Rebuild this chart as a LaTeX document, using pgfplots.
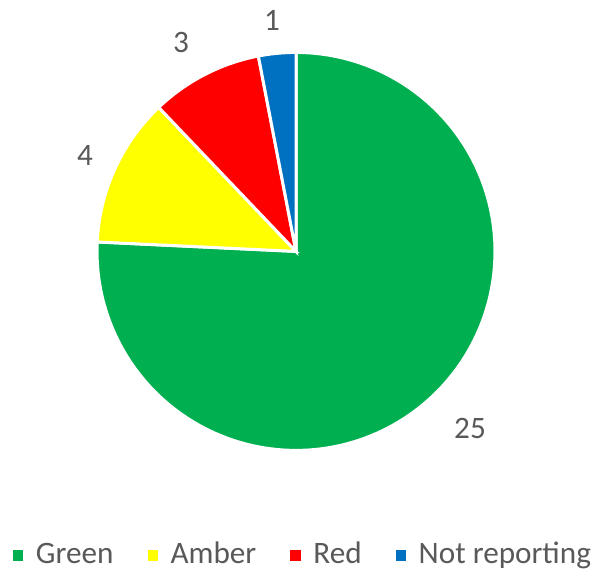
\documentclass[border=0pt]{standalone}
\usepackage{fontspec}
\setmainfont{Carlito}
\usepackage{pgfplots}
\usepackage{pgfplotstable}
\pgfplotsset{compat=1.18}
\definecolor{cGreen}{HTML}{00B050}
\definecolor{cAmber}{HTML}{FFFF00}
\definecolor{cRed}{HTML}{FF0000}
\definecolor{cBlue}{HTML}{0070C0}
\definecolor{txt}{HTML}{595959}
\pgfplotstableread{
label value
Green 25
Amber 4
Red 3
NotReporting 1
}\piedata
\pgfplotstablegetelem{0}{value}\of\piedata \let\vA\pgfplotsretval
\pgfplotstablegetelem{1}{value}\of\piedata \let\vB\pgfplotsretval
\pgfplotstablegetelem{2}{value}\of\piedata \let\vC\pgfplotsretval
\pgfplotstablegetelem{3}{value}\of\piedata \let\vD\pgfplotsretval
\pgfmathsetmacro\total{\vA+\vB+\vC+\vD}
\pgfmathsetmacro\aA{90}
\pgfmathsetmacro\aB{90-360*\vA/\total}
\pgfmathsetmacro\aC{\aB-360*\vB/\total}
\pgfmathsetmacro\aD{\aC-360*\vC/\total}
\pgfmathsetmacro\aE{\aD-360*\vD/\total}
\def\cx{296}\def\cy{319}\def\R{199}
\newcommand{\legsq}[1]{\fill[#1, draw=none] (0bp,-2.6bp) rectangle (5.2bp,2.6bp); \path[draw=none, fill=none] (0bp,0bp) -- (11.5bp,0bp);}
\begin{document}
\fontsize{15.6bp}{18bp}\selectfont
\begin{tikzpicture}
\begin{axis}[hide axis, scale only axis, width=299bp, height=285bp,
  xmin=0, xmax=598, ymin=0, ymax=570, clip=false,
  legend columns=-1,
  legend style={at={(axis cs:13,15)}, anchor=west, draw=none, fill=none,
    inner sep=0pt, outer sep=0pt,
    nodes={inner sep=0pt, outer sep=0pt},
    font=\fontsize{15.6bp}{18bp}\selectfont, text=txt,
    /tikz/every even column/.append style={column sep=17bp},
    /tikz/every odd column/.append style={column sep=0bp}},
]
\path (axis cs:0,0) rectangle (axis cs:598,570);
\addplot[forget plot, fill=cGreen, draw=white, line width=1.5bp, domain=\aB:\aA, samples=120, variable=\t]
  ({\cx+\R*cos(\t)}, {\cy+\R*sin(\t)}) -- (axis cs:\cx,\cy) -- cycle;
\addplot[forget plot, fill=cAmber, draw=white, line width=1.5bp, domain=\aC:\aB, samples=30, variable=\t]
  ({\cx+\R*cos(\t)}, {\cy+\R*sin(\t)}) -- (axis cs:\cx,\cy) -- cycle;
\addplot[forget plot, fill=cRed, draw=white, line width=1.5bp, domain=\aD:\aC, samples=30, variable=\t]
  ({\cx+\R*cos(\t)}, {\cy+\R*sin(\t)}) -- (axis cs:\cx,\cy) -- cycle;
\addplot[forget plot, fill=cBlue, draw=white, line width=1.5bp, domain=\aE:\aD, samples=15, variable=\t]
  ({\cx+\R*cos(\t)}, {\cy+\R*sin(\t)}) -- (axis cs:\cx,\cy) -- cycle;
\addlegendimage{legend image code/.code={\legsq{cGreen}}}
\addlegendentry{Green}
\addlegendimage{legend image code/.code={\legsq{cAmber}}}
\addlegendentry{Amber}
\addlegendimage{legend image code/.code={\legsq{cRed}}}
\addlegendentry{Red}
\addlegendimage{legend image code/.code={\legsq{cBlue}}}
\addlegendentry{Not reporting}
\node[text=txt] at (axis cs:470,142) {25};
\node[text=txt] at (axis cs:85,415) {4};
\node[text=txt] at (axis cs:181,528) {3};
\node[text=txt] at (axis cs:272,550) {1};
\end{axis}
\end{tikzpicture}
\end{document}
